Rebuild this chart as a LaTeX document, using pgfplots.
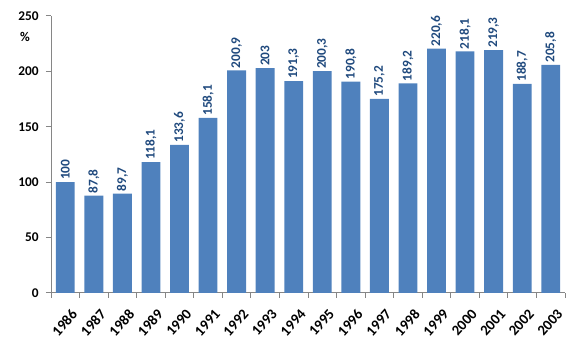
\documentclass[border=0pt]{standalone}
\usepackage{pgfplots}
\pgfplotsset{compat=1.18}
\usepackage{fontspec}
\setmainfont{Carlito}
\definecolor{barblue}{HTML}{4F81BD}
\definecolor{lblblue}{HTML}{1F497D}
\definecolor{axgray}{HTML}{868686}
\begin{document}
\begin{tikzpicture}
\begin{axis}[
  scale only axis,
  width=385.5pt, height=207.75pt,
  xmin=-0.5, xmax=17.5,
  ymin=0, ymax=250,
  ytick={0,50,...,250},
  xtick={0,...,17},
  xticklabels={1986,1987,1988,1989,1990,1991,1992,1993,1994,1995,1996,1997,1998,1999,2000,2001,2002,2003},
  minor xtick={-0.5,0.5,...,17.5},
  major x tick style={draw=none},
  minor tick length=3.75pt,
  major tick length=3.75pt,
  tick align=outside,
  axis x line*=bottom,
  axis y line*=left,
  axis line style={axgray, line width=0.75pt, -},
  every tick/.style={axgray, line width=0.75pt},
  tick label style={font=\fontsize{10}{12}\selectfont\bfseries, /pgf/number format/assume math mode=true},
  xticklabel style={rotate=48, anchor=east, font=\fontsize{11}{13}\selectfont\bfseries, xshift=0.5pt, yshift=-12pt},
  yticklabel style={xshift=-2pt},
  ybar, bar width=0.66,
  nodes near coords,
  nodes near coords style={rotate=90, anchor=west, font=\fontsize{10}{12}\selectfont\bfseries, color=lblblue, inner sep=1.5pt,
    /pgf/number format/.cd, use comma, fixed, precision=1, 1000 sep={}, assume math mode=true},
  clip=false,
]
\addplot[fill=barblue, draw=none] coordinates {
(0,100) (1,87.8) (2,89.7) (3,118.1) (4,133.6) (5,158.1) (6,200.9) (7,203) (8,191.3)
(9,200.3) (10,190.8) (11,175.2) (12,189.2) (13,220.6) (14,218.1) (15,219.3) (16,188.7) (17,205.8)};
\node[font=\fontsize{10}{12}\selectfont\bfseries] at (axis cs:-0.5,231) [xshift=-19.5pt] {\%};
\coordinate (ll) at (rel axis cs:0,0);
\coordinate (ur) at (rel axis cs:1,1);
\end{axis}
\path (ll) ++(-38.25pt,-47.25pt) coordinate (A);
\path (ur) ++(12pt,12pt) coordinate (B);
\pgfresetboundingbox
\path (A) rectangle (B);
\end{tikzpicture}
\end{document}
